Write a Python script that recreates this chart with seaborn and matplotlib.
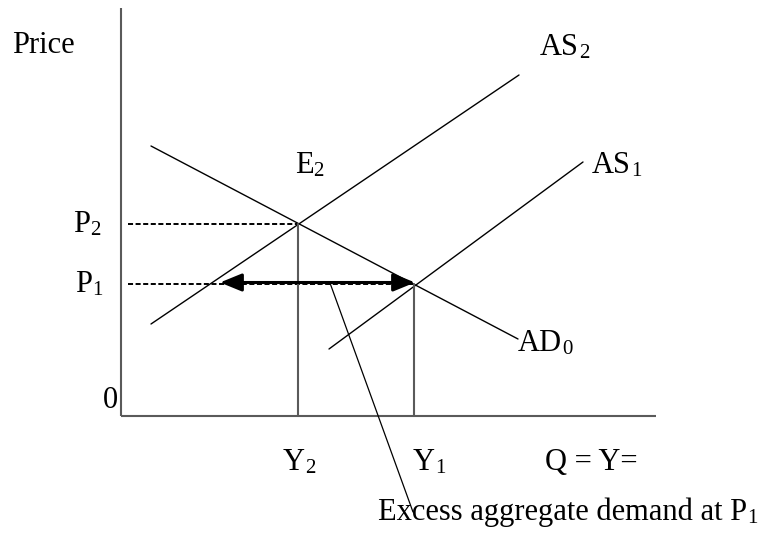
import numpy as np
import pandas as pd
import matplotlib
matplotlib.use('Agg')
import matplotlib.pyplot as plt
import seaborn as sns

# curves as (Q, P) end points, origin at the axes corner
ad0_q = [30, 397]
ad0_p = [270, 77]
as2_q = [30, 398]
as2_p = [92, 341]
as1_q = [208, 462]
as1_p = [67, 254]

# equilibrium levels
y2, p2 = 177, 192
y1, p1 = 293, 132
axis_top = 408
axis_right = 535
dash_start = 7

# excess demand arrow and pointer line
arrow_q = [99, 294]
pointer_q = [209, 292]
pointer_p = [133, -96]

sns.set_theme(style='white')
plt.rcParams['font.family'] = ['Liberation Serif', 'DejaVu Serif']

fig = plt.figure(figsize=(7.7, 5.37), dpi=100)
ax = fig.add_axes([0, 0, 1, 1])
ax.set_xlim(-121, 649)
ax.set_ylim(-121, 416)
ax.axis('off')

curves = pd.DataFrame({
    'Q': ad0_q + as2_q + as1_q,
    'P': ad0_p + as2_p + as1_p,
    'curve': ['AD0'] * 2 + ['AS2'] * 2 + ['AS1'] * 2,
})
sns.lineplot(data=curves, x='Q', y='P', hue='curve', units='curve', estimator=None,
             palette=['black'] * 3, linewidth=1.0, legend=False, sort=False, ax=ax)

# axes
axis_col = '#5a5a5a'
ax.plot([0, 0], [0, axis_top], color=axis_col, lw=1.5, solid_capstyle='butt')
ax.plot([0, axis_right], [0, 0], color=axis_col, lw=1.5, solid_capstyle='butt')

# dashed price levels
ax.plot([dash_start, y2], [p2, p2], color='black', lw=1.4, dashes=(2.6, 1.3))
ax.plot([dash_start, y1], [p1, p1], color='black', lw=1.4, dashes=(2.6, 1.3))

# output levels
ax.plot([y2, y2], [0, p2], color=axis_col, lw=1.5)
ax.plot([y1, y1], [0, p1], color=axis_col, lw=1.5)

# double arrow
ax.annotate('', xy=(arrow_q[1], p1 + 1.5), xytext=(arrow_q[0], p1 + 1.5),
            arrowprops=dict(arrowstyle='<|-|>,head_length=1.1,head_width=0.45',
                            color='black', lw=2.2, shrinkA=0, shrinkB=0))

ax.plot(pointer_q, pointer_p, color='black', lw=0.9)

FS = 22
SUB = 15


def label(q, p, main, sub=''):
    t = ax.text(q, p, main, fontsize=FS, ha='left', va='baseline', color='black')
    if sub:
        ax.annotate(sub, xy=(1, 0), xycoords=t, xytext=(0, -0.5),
                    textcoords='offset points', fontsize=SUB, ha='left', va='bottom',
                    color='black')
    return t


label(-109, 363, 'Price')
label(419, 361, 'AS', '2')
label(174, 243, 'E', '2')
label(471, 243, 'AS', '1')
label(-48, 184, 'P', '2')
label(-46, 124, 'P', '1')
label(-18, 8, '0')
label(397, 65, 'AD', '0')
label(162, -54, 'Y', '2')
label(292, -54, 'Y', '1')
label(424, -54, 'Q = Y=')
label(257, -104, 'Excess aggregate demand at P', '1')

fig.savefig('out.png', dpi=100)
